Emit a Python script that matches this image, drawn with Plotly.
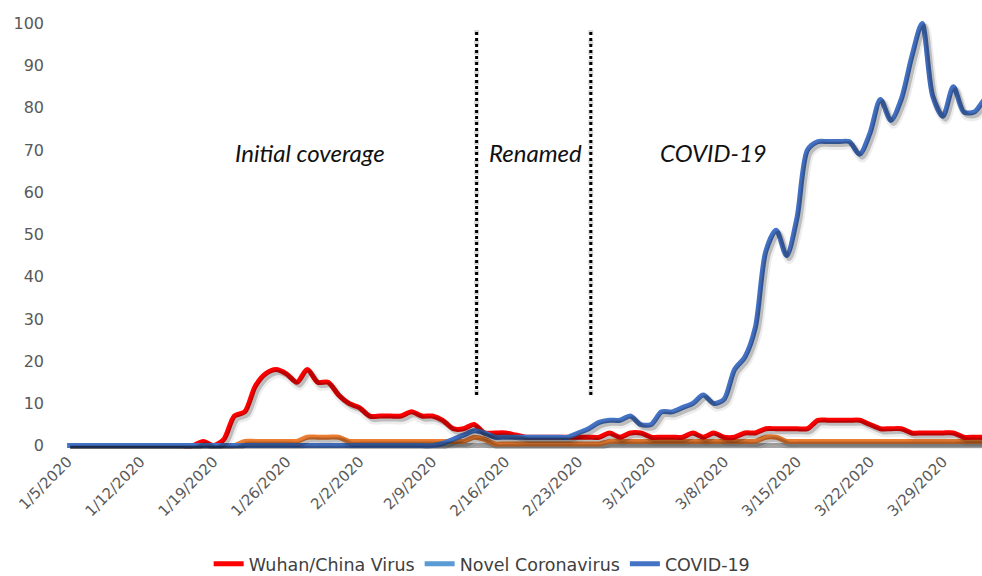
import pandas as pd
import plotly.graph_objects as go

# ---------------- data ----------------
dates = pd.date_range("2020-01-05", "2020-04-03", freq="D")

wuhan_china_virus = [
    0, 0, 0, 0, 0, 0, 0, 0, 0, 0, 0, 0, 0, 1, 0, 1.5, 7, 8, 14, 17,
    18, 17, 15, 18, 15, 15, 12, 10, 9, 7, 7, 7, 7, 8, 7, 7, 6, 4, 4, 5,
    3, 3, 3, 2.5, 2, 2, 2, 2, 2, 2, 2, 2, 3, 2, 3, 3, 2, 2, 2, 2,
    3, 2, 3, 2, 2, 3, 3, 4, 4, 4, 4, 4, 6, 6, 6, 6, 6, 5, 4, 4,
    4, 3, 3, 3, 3, 3, 2, 2, 2, 2,
]
novel_coronavirus = [0] * 90
covid_19 = [
    0, 0, 0, 0, 0, 0, 0, 0, 0, 0, 0, 0, 0, 0, 0, 0, 0, 0, 0, 0,
    0, 0, 0, 0, 0, 0, 0, 0, 0, 0, 0, 0, 0, 0, 0, 0, 0.5, 1.5, 2.5, 3.5,
    3, 2, 2, 2, 2, 2, 2, 2, 2, 3, 4, 5.5, 6, 6, 7, 5, 5, 8, 8, 9,
    10, 12, 10, 11, 18, 21, 28, 46, 51, 45, 54, 70, 72, 72, 72, 72, 69, 74, 82, 77,
    82, 92, 100, 83, 78, 85, 79, 79, 82, 84,
]
other_orange = [
    0, 0, 0, 0, 0, 0, 0, 0, 0, 0, 0, 0, 0, 0, 0, 0, 0, 1, 1, 1,
    1, 1, 1, 2, 2, 2, 2, 1, 1, 1, 1, 1, 1, 1, 1, 1, 1, 1, 1, 2,
    1.5, 0.4, 0.4, 0.4, 0.4, 0.4, 0.4, 0.4, 0.4, 0.4, 0.4, 0.4, 1, 1, 1, 1, 1, 1, 1, 1,
    1, 1, 1, 1, 1, 1, 1, 2, 2, 1, 1, 1, 1, 1, 1, 1, 1, 1, 1, 1,
    1, 1, 1, 1, 1, 1, 1, 1, 1, 1,
]
other_gray = [0] * 90

tick_dates = pd.date_range("2020-01-05", "2020-03-29", freq="7D")
tick_labels = ["1/5/2020", "1/12/2020", "1/19/2020", "1/26/2020", "2/2/2020",
               "2/9/2020", "2/16/2020", "2/23/2020", "3/1/2020", "3/8/2020",
               "3/15/2020", "3/22/2020", "3/29/2020"]
y_ticks = list(range(0, 101, 10))

phase_labels = ["Initial coverage", "Renamed", "COVID-19"]
phase_label_x = ["2020-01-28 07:00", "2020-02-18 22:00", "2020-03-07 00:00"]
divider_x = ["2020-02-13 06:00", "2020-02-24 05:00"]

# ---------------- figure ----------------
x_start = pd.Timestamp("2020-01-04 18:00")
x_end = pd.Timestamp("2020-04-01 18:00")
y_lo, y_hi = -0.8, 100.8

series = [
    ("Novel Coronavirus", novel_coronavirus, "#5B9BD5", True),
    ("Other", other_gray, "#A5A5A5", False),
    ("Other 2", other_orange, "#ED7D31", False),
    ("Wuhan/China Virus", wuhan_china_virus, "#FF0000", True),
    ("COVID-19", covid_19, "#4472C4", True),
]
legend_rank = {"Wuhan/China Virus": 1, "Novel Coronavirus": 2, "COVID-19": 3}

fig = go.Figure()

# soft drop shadow: one combined path per layer so overlaps don't darken
shadow_x, shadow_y = [], []
for vals in (other_orange, wuhan_china_virus, covid_19):
    shadow_x += list(dates) + [None]
    shadow_y += list(vals) + [None]

shadow_layers = [("x2", "y2", "rgba(0,0,0,0.07)", 9), ("x3", "y3", "rgba(0,0,0,0.2)", 5)]
for xa, ya, col, w in shadow_layers:
    fig.add_trace(go.Scatter(
        x=shadow_x, y=shadow_y, mode="lines", xaxis=xa, yaxis=ya, connectgaps=False,
        line=dict(color=col, width=w, shape="spline", smoothing=0.8),
        showlegend=False, hoverinfo="skip"))

for name, vals, color, show in series:
    fig.add_trace(go.Scatter(
        x=dates, y=vals, mode="lines", name=name,
        line=dict(color=color, width=5, shape="spline", smoothing=0.8),
        showlegend=show, legendrank=legend_rank.get(name, 10)))

shapes = []
for dx in divider_x:
    shapes.append(dict(type="line", xref="x", yref="y", x0=dx, x1=dx, y0=12, y1=98.5,
                       line=dict(color="rgba(0,0,0,0.15)", width=5, dash="dot")))
    shapes.append(dict(type="line", xref="x", yref="y", x0=dx, x1=dx, y0=12, y1=98.5,
                       line=dict(color="#000000", width=3, dash="dot")))

annotations = []
for txt, xx in zip(phase_labels, phase_label_x):
    annotations.append(dict(x=xx, y=69.5, xref="x", yref="y", text=txt, showarrow=False,
                            font=dict(family="Lato", size=24, color="#111111", style="italic"),
                            xanchor="center", yanchor="middle"))

sx1 = pd.Timedelta(hours=6)
sy1 = 0.9
sx2 = pd.Timedelta(hours=6)
sy2 = 0.7

fig.update_layout(
    width=982, height=576, autosize=False,
    margin=dict(l=65, r=0, t=20, b=127),
    paper_bgcolor="white", plot_bgcolor="white",
    font=dict(family="Lato", color="#595959"),
    shapes=shapes, annotations=annotations,
    xaxis=dict(range=[x_start, x_end], tickvals=list(tick_dates), ticktext=tick_labels,
               tickangle=-45, tickfont=dict(family="DejaVu Sans", size=15, color="#595959"),
               showgrid=False, zeroline=False, showline=False, ticks="", automargin=False),
    yaxis=dict(range=[y_lo, y_hi], tickvals=y_ticks,
               tickfont=dict(family="DejaVu Sans", size=16, color="#595959"),
               showgrid=False, zeroline=False, showline=False, ticks="",
               ticklabelstandoff=20, automargin=False),
    xaxis2=dict(range=[x_start - sx1, x_end - sx1], overlaying="x", visible=False),
    yaxis2=dict(range=[y_lo + sy1, y_hi + sy1], overlaying="y", visible=False),
    xaxis3=dict(range=[x_start - sx2, x_end - sx2], overlaying="x", visible=False),
    yaxis3=dict(range=[y_lo + sy2, y_hi + sy2], overlaying="y", visible=False),
    legend=dict(orientation="h", xref="container", yref="container",
                x=0.491, xanchor="center", y=0.021, yanchor="middle",
                font=dict(family="DejaVu Sans", size=17.5, color="#404040"), traceorder="normal",
                itemwidth=30, bgcolor="rgba(0,0,0,0)"),
    showlegend=True,
)

fig.write_html(
    "out.html",
    config={"displayModeBar": False},
    post_script="document.body.style.margin='0';document.body.style.overflow='hidden';",
)
